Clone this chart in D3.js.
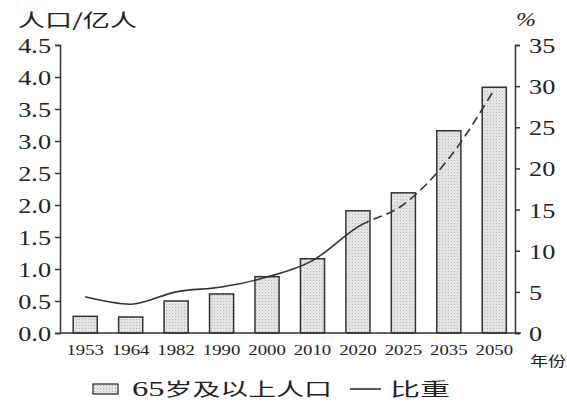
<!DOCTYPE html>
<html><head><meta charset="utf-8">
<script src="https://cdn.jsdelivr.net/npm/d3@7"></script>
<style>
html,body{margin:0;padding:0;background:#fff;}
svg{display:block;}
</style></head>
<body>
<svg id="chart" width="567" height="402"></svg>
<script>
const years = ["1953","1964","1982","1990","2000","2010","2020","2025","2035","2050"];
const population = [0.26,0.25,0.50,0.61,0.88,1.16,1.91,2.19,3.16,3.84];
const share = [4.4,3.5,5.0,5.6,6.8,8.8,12.9,15.6,21.2,29.6];
const leftTicks = [0,0.5,1.0,1.5,2.0,2.5,3.0,3.5,4.0,4.5];
const rightTicks = [0,5,10,15,20,25,30,35];
const solidUntil = "2020";

(function(){
const svg = d3.select("#chart");
const ink = "#333";
const serif = "'Liberation Serif', 'Noto Sans CJK SC', serif";
const cjk = "'Noto Sans CJK SC', 'Liberation Serif', sans-serif";

const pLeft = 60, pRight = 515, pTop = 45, pBottom = 333;

const x = d3.scaleBand().domain(years).range([pLeft, 519.5]).paddingInner(0.47).paddingOuter(0.29);
const yL = d3.scaleLinear().domain([0,4.5]).range([pBottom, pTop]);
const yR = d3.scaleLinear().domain([0,35]).range([pBottom, pTop]);

function stretch(sel, k){
  sel.each(function(){
    const w = this.getComputedTextLength();
    d3.select(this).attr("textLength", w*k).attr("lengthAdjust","spacingAndGlyphs");
  });
}

// bars
const defs = svg.append("defs");
const pat = defs.append("pattern").attr("id","dots").attr("width",3).attr("height",3).attr("patternUnits","userSpaceOnUse");
pat.append("rect").attr("width",3).attr("height",3).attr("fill","#e4e4e4");
pat.append("rect").attr("x",1).attr("y",1).attr("width",1).attr("height",1).attr("fill","#b8b8b8");

svg.append("g").selectAll("rect").data(years).join("rect")
  .attr("x", d=>x(d)).attr("width", x.bandwidth())
  .attr("y", (d,i)=>yL(population[i])).attr("height",(d,i)=>pBottom - yL(population[i]))
  .attr("fill","url(#dots)").attr("stroke",ink).attr("stroke-width",1.5);

// left axis
const gL = svg.append("g").attr("transform",`translate(${pLeft},0)`)
  .call(d3.axisLeft(yL).tickValues(leftTicks).tickFormat(d3.format(".1f")).tickSizeInner(5).tickSizeOuter(5).tickPadding(4));
gL.selectAll("path,line").attr("stroke",ink).attr("stroke-width",1.5);
gL.selectAll("text").attr("font-family",serif).attr("font-size",21).attr("fill","#222").attr("dy","0.36em");
stretch(gL.selectAll("text"),1.25);

// right axis
const gR = svg.append("g").attr("transform",`translate(${pRight},0)`)
  .call(d3.axisRight(yR).tickValues(rightTicks).tickSizeInner(5).tickSizeOuter(5).tickPadding(9));
gR.selectAll("path,line").attr("stroke",ink).attr("stroke-width",1.5);
gR.selectAll("text").attr("font-family",serif).attr("font-size",21).attr("fill","#222").attr("dy","0.36em");
stretch(gR.selectAll("text"),1.25);

// bottom axis
const gB = svg.append("g").attr("transform",`translate(0,${pBottom})`)
  .call(d3.axisBottom(x).tickSize(0).tickPadding(11));
gB.select("path").attr("d",`M${pLeft},0H${pRight+6}`).attr("stroke",ink).attr("stroke-width",1.5);
gB.selectAll("text").attr("font-family",serif).attr("font-size",15).attr("fill","#222");
stretch(gB.selectAll("text"),1.25);

// line
const pts = years.map((d,i)=>[x(d)+x.bandwidth()/2, yR(share[i])]);
const lineGen = d3.line().curve(d3.curveMonotoneX);
const splitX = x(solidUntil)+x.bandwidth()/2 + 8;
defs.append("clipPath").attr("id","cs").append("rect").attr("x",0).attr("y",0).attr("width",splitX).attr("height",402);
defs.append("clipPath").attr("id","cd").append("rect").attr("x",splitX).attr("y",0).attr("width",567-splitX).attr("height",402);
svg.append("path").attr("d",lineGen(pts)).attr("fill","none").attr("stroke",ink).attr("stroke-width",1.6).attr("clip-path","url(#cs)");
svg.append("path").attr("d",lineGen(pts)).attr("fill","none").attr("stroke",ink).attr("stroke-width",1.6)
  .attr("stroke-dasharray","9,5").attr("clip-path","url(#cd)");

// titles
svg.append("text").attr("x",18).attr("y",27).attr("font-family",cjk).attr("font-size",18).attr("fill","#222").text("人口/亿人")
  .attr("textLength",119).attr("lengthAdjust","spacingAndGlyphs");
svg.append("text").attr("x",516).attr("y",26).attr("font-family",serif).attr("font-style","italic").attr("font-size",18).attr("fill","#222").text("%")
  .attr("textLength",20).attr("lengthAdjust","spacingAndGlyphs");
svg.append("text").attr("x",530).attr("y",366).attr("font-family",cjk).attr("font-size",14).attr("fill","#222").text("年份")
  .attr("textLength",36).attr("lengthAdjust","spacingAndGlyphs");

// legend
svg.append("rect").attr("x",93).attr("y",384).attr("width",25).attr("height",10).attr("fill","url(#dots)").attr("stroke",ink).attr("stroke-width",1.3);
const lt = svg.append("text").attr("x",132).attr("y",396).attr("font-family",cjk).attr("font-size",18).attr("fill","#222")
  .attr("textLength",200).attr("lengthAdjust","spacingAndGlyphs");
lt.append("tspan").attr("font-family",serif).attr("font-size",21).text("65");
lt.append("tspan").text("岁及以上人口");
svg.append("line").attr("x1",350).attr("x2",381).attr("y1",389).attr("y2",389).attr("stroke",ink).attr("stroke-width",1.6);
svg.append("text").attr("x",390).attr("y",396).attr("font-family",cjk).attr("font-size",18).attr("fill","#222").text("比重")
  .attr("textLength",60).attr("lengthAdjust","spacingAndGlyphs");
})();
</script>
</body></html>
